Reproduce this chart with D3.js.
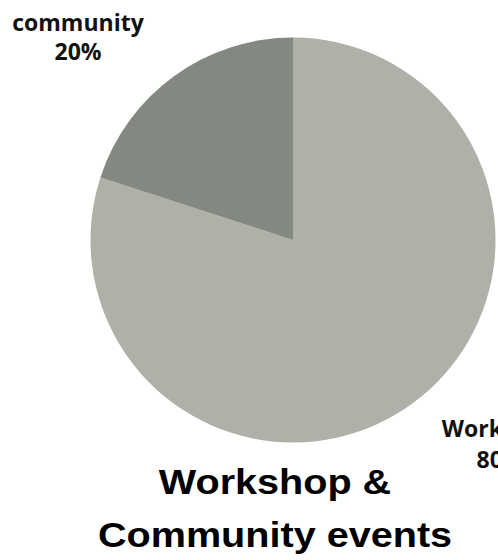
<!DOCTYPE html>
<html>
<head>
<meta charset="utf-8">
<script src="https://cdn.jsdelivr.net/npm/d3@7"></script>
<style>
  body { margin: 0; background: #fff; }
  svg { display: block; }
</style>
</head>
<body>
<div id="piechart"></div>
<script>
// Data
const categories = ["Workshop", "community"];
const shares = [80, 20];
const sliceColors = ["#afb0a8", "#838880"];
const titleLines = ["Workshop &", "Community events"];

// Set dimensions and create SVG
const width = 498,
  height = 560;
const cx = 293,
  cy = 240,
  radius = 202.5;

const svg = d3
  .select("#piechart")
  .append("svg")
  .attr("width", width)
  .attr("height", height);

const g = svg.append("g").attr("transform", `translate(${cx}, ${cy})`);

const dataArray = categories.map((c, i) => ({ category: c, value: shares[i] }));

// Color scale
const color = d3.scaleOrdinal().domain(categories).range(sliceColors);

// Pie and arc generator
const pie = d3.pie().sort(null).value((d) => d.value);
const arcGenerator = d3.arc().innerRadius(0).outerRadius(radius);
const data_ready = pie(dataArray);

g.selectAll("path")
  .data(data_ready)
  .enter()
  .append("path")
  .attr("d", arcGenerator)
  .attr("fill", (d) => color(d.data.category));

// Slice labels sit outside the pie (name on top, percentage below)
const labelSpots = { Workshop: [500, 437, 31], community: [78, 31, 29] };
const total = d3.sum(shares);

const labels = svg
  .selectAll("g.label")
  .data(data_ready)
  .enter()
  .append("g")
  .attr("class", "label")
  .attr("transform", (d) => {
    const p = labelSpots[d.data.category];
    return `translate(${p[0]}, ${p[1]})`;
  })
  .style("font-family", "'Open Sans', sans-serif")
  .style("font-weight", "bold")
  .style("font-size", "23px")
  .attr("text-anchor", "middle")
  .attr("fill", "#111");

labels.append("text").text((d) => d.data.category);
labels
  .append("text")
  .attr("y", (d) => labelSpots[d.data.category][2])
  .text((d) => `${Math.round((d.data.value / total) * 100)}%`);

// Title under the pie (glyphs a bit wider than plain Arial bold)
svg
  .selectAll("text.title")
  .data(titleLines)
  .enter()
  .append("text")
  .attr("class", "title")
  .attr("transform", (d, i) => `translate(275, ${494 + i * 53}) scale(1.1, 1)`)
  .attr("text-anchor", "middle")
  .style("font-family", "'Liberation Sans', Arial, sans-serif")
  .style("font-weight", "bold")
  .style("font-size", "36px")
  .attr("fill", "#000")
  .text((d) => d);
</script>
</body>
</html>
